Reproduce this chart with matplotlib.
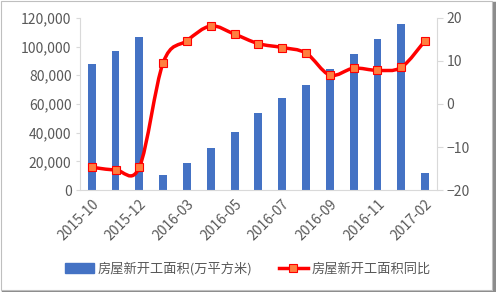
import numpy as np
import matplotlib.pyplot as plt
from matplotlib.path import Path
from matplotlib.patches import PathPatch, Rectangle
from matplotlib.lines import Line2D

plt.rcParams['font.family'] = ['Noto Sans CJK SC', 'DejaVu Sans']

# data
months = ['2015-10', '2015-11', '2015-12', '2016-02', '2016-03', '2016-04', '2016-05',
          '2016-06', '2016-07', '2016-08', '2016-09', '2016-10', '2016-11', '2016-12', '2017-02']
area = [87500, 97000, 106500, 10500, 19000, 29000, 40500,
        54000, 64000, 73500, 84500, 95000, 105000, 116000, 12000]
yoy = [-14.7, -15.3, -14.7, 9.6, 14.7, 18.1, 16.2,
       14.0, 13.1, 11.8, 6.7, 8.3, 7.8, 8.5, 14.7]

bar_name = '房屋新开工面积(万平方米)'
line_name = '房屋新开工面积同比'

blue = '#4472C4'
red = '#FF0000'
marker_face = '#FF7F3F'
grey_text = '#595959'
axis_grey = '#D9D9D9'

fig = plt.figure(figsize=(4.96, 2.92), dpi=100)
# outer frame with shadow
fig.patches.append(Rectangle((0.006, 0.0), 0.99, 0.99, transform=fig.transFigure,
                             facecolor='none', edgecolor='#8C8C8C', lw=2.5, zorder=-2))
fig.patches.append(Rectangle((0.002, 0.008), 0.99, 0.99, transform=fig.transFigure,
                             facecolor='white', edgecolor='#BFBFBF', lw=0.8, zorder=-1))

ax = fig.add_axes([0.161, 0.349, 0.72, 0.59])
x = np.arange(len(months))
ax.bar(x, area, width=0.33, color=blue, zorder=2)
ax.set_ylim(0, 120000)
ax.set_xlim(-0.5, len(months) - 0.5)
ax.set_yticks(np.arange(0, 120001, 20000))
ax.yaxis.set_major_formatter(plt.FuncFormatter(lambda v, p: f'{int(v):,}'))
ax.set_xticks(x[::2])
ax.set_xticklabels(months[::2], rotation=45, ha='right', rotation_mode='anchor')
ax.tick_params(axis='y', labelsize=10, colors=grey_text, length=3, color=axis_grey, pad=3)
ax.tick_params(axis='x', labelsize=10, colors=grey_text, length=0, pad=5)
for s in ['top', 'right']:
    ax.spines[s].set_visible(False)
ax.spines['left'].set_color(axis_grey)
ax.spines['bottom'].set_color(axis_grey)
ax.patch.set_alpha(0)

ax2 = ax.twinx()
ax2.set_ylim(-20, 20)
ax2.set_yticks([-20, -10, 0, 10, 20])
ax2.tick_params(axis='y', labelsize=10, colors=grey_text, length=4, color=axis_grey, pad=3)
for s in ['top', 'left', 'bottom']:
    ax2.spines[s].set_visible(False)
ax2.spines['right'].set_color(axis_grey)

# smoothed line (Catmull-Rom style bezier through the data points)
pts = np.column_stack([x, yoy]).astype(float)
verts = [tuple(pts[0])]
codes = [Path.MOVETO]
t = 1 / 6
for i in range(len(pts) - 1):
    p0 = pts[i - 1] if i > 0 else pts[i]
    p1 = pts[i]
    p2 = pts[i + 1]
    p3 = pts[i + 2] if i + 2 < len(pts) else pts[i + 1]
    c1 = p1 + (p2 - p0) * t
    c2 = p2 - (p3 - p1) * t
    verts += [tuple(c1), tuple(c2), tuple(p2)]
    codes += [Path.CURVE4] * 3
ax2.add_patch(PathPatch(Path(verts, codes), facecolor='none', edgecolor=red, lw=2.5,
                        zorder=3, capstyle='round', joinstyle='round'))
ax2.plot(x, yoy, ls='none', marker='s', ms=5.5, mfc=marker_face, mec=red, mew=0.8, zorder=4)

handles = [Rectangle((0, 0), 1, 1, color=blue),
           Line2D([], [], color=red, lw=2.5, marker='s', ms=5.5, mfc=marker_face, mec=red, mew=0.8)]
fig.legend(handles, [bar_name, line_name], loc='center', bbox_to_anchor=(0.5, 0.08),
           ncol=2, frameon=False, fontsize=9.5, labelcolor=grey_text,
           handlelength=2.2, columnspacing=2.0, handletextpad=0.3)

fig.savefig('out.png', dpi=100)
